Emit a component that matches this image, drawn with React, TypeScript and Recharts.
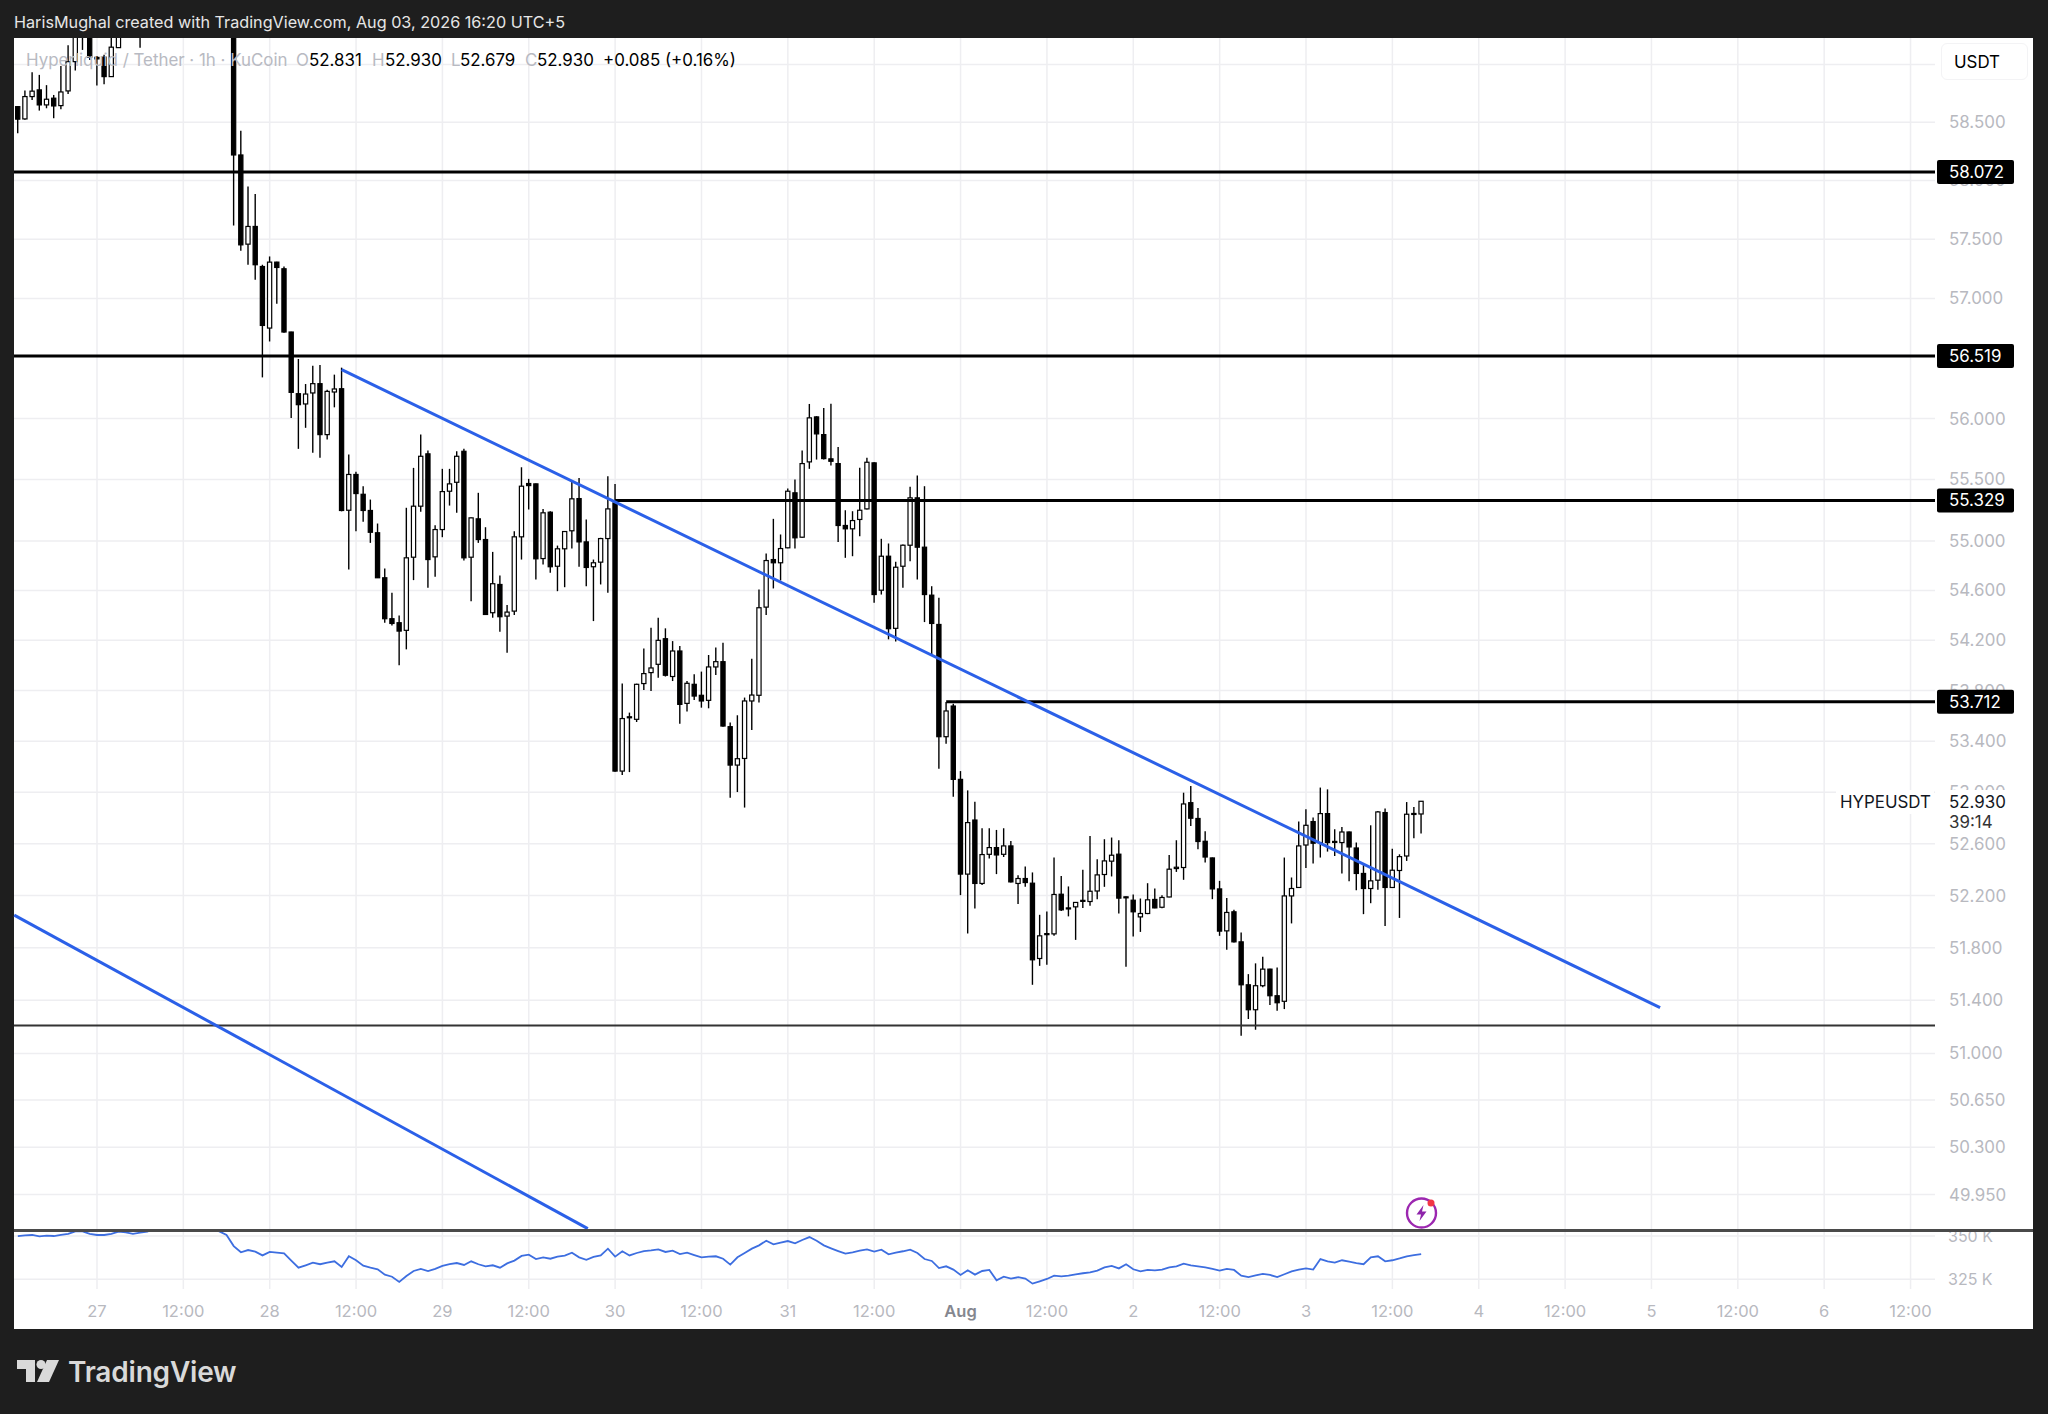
import { Bar, CartesianGrid, ComposedChart, Line, ReferenceLine, XAxis, YAxis } from 'recharts'

// hours counted from Jul 27 00:00, candles above the visible range are left out
const candleHours = [
  -11, -10, -9, -8, -7, -6, -5, -4, -3, -2,
  -1, 0, 1, 2, 3, 6, 19, 20, 21, 22,
  23, 24, 25, 26, 27, 28, 29, 30, 31, 32,
  33, 34, 35, 36, 37, 38, 39, 40, 41, 42,
  43, 44, 45, 46, 47, 48, 49, 50, 51, 52,
  53, 54, 55, 56, 57, 58, 59, 60, 61, 62,
  63, 64, 65, 66, 67, 68, 69, 70, 71, 72,
  73, 74, 75, 76, 77, 78, 79, 80, 81, 82,
  83, 84, 85, 86, 87, 88, 89, 90, 91, 92,
  93, 94, 95, 96, 97, 98, 99, 100, 101, 102,
  103, 104, 105, 106, 107, 108, 109, 110, 111, 112,
  113, 114, 115, 116, 117, 118, 119, 120, 121, 122,
  123, 124, 125, 126, 127, 128, 129, 130, 131, 132,
  133, 134, 135, 136, 137, 138, 139, 140, 141, 142,
  143, 144, 145, 146, 147, 148, 149, 150, 151, 152,
  153, 154, 155, 156, 157, 158, 159, 160, 161, 162,
  163, 164, 165, 166, 167, 168, 169, 170, 171, 172,
  173, 174, 175, 176, 177, 178, 179, 180, 181, 182, 183, 184,
]

const opens = [
  58.634, 58.528, 58.721, 58.779, 58.649, 58.707, 58.643, 58.77, 59.024, 59.4,
  59.5, 59.061, 59.063, 58.894, 59.146, 59.6, 59.7, 58.218, 57.458, 57.608,
  57.269, 56.752, 57.306, 57.25, 56.719, 56.206, 56.121, 56.212, 56.289, 55.868,
  56.22, 56.247, 55.249, 55.541, 55.379, 55.247, 55.066, 54.702, 54.373, 54.341,
  54.28, 54.868, 55.282, 55.71, 54.871, 55.092, 55.404, 55.477, 55.731, 54.868,
  55.179, 55.011, 54.421, 54.648, 54.394, 54.434, 55.033, 55.467, 55.464, 54.857,
  55.233, 54.795, 54.936, 55.082, 55.344, 54.992, 54.791, 54.828, 55.019, 55.309,
  53.166, 53.593, 53.573, 53.856, 53.943, 54.009, 54.213, 53.912, 54.115, 53.699,
  53.85, 53.763, 53.723, 53.988, 54.03, 53.515, 53.213, 53.265, 53.718, 53.763,
  54.466, 54.849, 54.823, 54.944, 55.391, 55.03, 55.644, 56.014, 55.868, 55.669,
  55.63, 55.125, 55.098, 55.174, 55.26, 55.636, 54.602, 54.876, 54.296, 54.795,
  54.965, 55.35, 54.949, 54.562, 54.327, 53.436, 53.678, 53.101, 52.365, 52.784,
  52.293, 52.518, 52.57, 52.518, 52.583, 52.293, 52.331, 52.295, 51.718, 51.9,
  51.906, 52.21, 52.105, 52.113, 52.155, 52.154, 52.235, 52.362, 52.465, 52.519,
  52.19, 52.164, 52.036, 52.062, 52.17, 52.11, 52.189, 52.408, 52.416, 52.919,
  52.796, 52.619, 52.49, 52.251, 51.929, 52.075, 51.845, 51.518, 51.329, 51.511,
  51.637, 51.435, 51.393, 52.197, 52.262, 52.59, 52.772, 52.609, 52.834, 52.61,
  52.609, 52.691, 52.567, 52.37, 52.254, 52.318, 52.842, 52.262, 52.393, 52.505, 52.835, 52.831,
]

const highs = [
  58.64, 58.773, 58.932, 58.909, 58.82, 58.735, 58.987, 59.167, 59.5, 59.6,
  59.6, 59.074, 59.083, 59.3, 59.5, 59.7, 59.8, 58.427, 57.948, 57.885,
  57.284, 57.354, 57.309, 57.269, 56.721, 56.494, 56.286, 56.438, 56.444, 56.239,
  56.364, 56.422, 55.704, 55.563, 55.445, 55.336, 55.141, 54.777, 54.581, 54.399,
  55.269, 55.595, 55.868, 55.737, 55.127, 55.587, 55.587, 55.731, 55.751, 55.19,
  55.391, 55.111, 54.911, 54.72, 54.482, 55.079, 55.6, 55.505, 55.467, 55.26,
  55.241, 54.962, 55.079, 55.491, 55.513, 55.174, 54.849, 55.025, 55.526, 55.464,
  53.856, 53.626, 53.855, 54.134, 54.301, 54.381, 54.296, 54.194, 54.154, 53.876,
  53.93, 53.951, 54.083, 54.142, 54.181, 53.547, 53.605, 53.745, 54.054, 54.608,
  54.898, 55.179, 55.052, 55.426, 55.5, 55.737, 56.121, 56.02, 56.088, 56.123,
  55.767, 55.249, 55.241, 55.595, 55.677, 55.641, 55.017, 54.979, 54.831, 54.97,
  55.44, 55.532, 55.445, 54.634, 54.541, 53.71, 53.697, 53.166, 53.015, 52.927,
  52.72, 52.72, 52.707, 52.72, 52.621, 52.357, 52.424, 52.378, 52.052, 52.078,
  52.493, 52.351, 52.27, 52.15, 52.398, 52.659, 52.48, 52.635, 52.648, 52.627,
  52.193, 52.208, 52.177, 52.295, 52.254, 52.203, 52.512, 52.627, 52.997, 53.049,
  52.878, 52.697, 52.493, 52.313, 52.182, 52.09, 51.917, 51.599, 51.681, 51.731,
  51.64, 51.65, 52.493, 52.339, 52.772, 52.868, 52.803, 53.037, 53.023, 52.712,
  52.73, 52.695, 52.609, 52.447, 52.743, 52.854, 52.873, 52.562, 52.518, 52.924, 52.885, 52.93,
]

const lows = [
  58.405, 58.52, 58.692, 58.6, 58.62, 58.534, 58.612, 58.744, 58.946, 59.126,
  59.039, 58.816, 58.828, 58.89, 59.146, 59.146, 57.616, 57.402, 57.284, 57.158,
  56.341, 56.64, 56.956, 56.713, 56.006, 55.751, 55.924, 55.718, 55.677, 55.827,
  56.093, 55.24, 54.769, 55.079, 55.155, 54.984, 54.7, 54.341, 54.319, 54.001,
  54.128, 54.683, 55.236, 54.621, 54.71, 55.03, 55.287, 55.228, 54.841, 54.513,
  54.984, 54.405, 54.381, 54.269, 54.102, 54.402, 54.849, 55.255, 54.688, 54.809,
  54.742, 54.594, 54.626, 54.938, 54.791, 54.634, 54.354, 54.648, 54.581, 53.16,
  53.135, 53.158, 53.552, 53.805, 53.797, 53.903, 53.912, 53.876, 53.539, 53.634,
  53.725, 53.665, 53.66, 53.924, 53.515, 52.958, 53.002, 52.881, 53.488, 53.705,
  54.402, 54.616, 54.68, 54.94, 54.938, 55.025, 55.587, 55.663, 55.663, 55.614,
  54.992, 54.863, 54.876, 55.038, 55.255, 54.501, 54.567, 54.208, 54.19, 54.621,
  54.836, 54.688, 54.346, 54.075, 53.185, 53.381, 52.966, 52.203, 51.909, 52.101,
  52.282, 52.485, 52.365, 52.497, 52.3, 52.134, 52.267, 51.518, 51.662, 51.67,
  51.891, 52.082, 52.04, 51.86, 52.105, 52.121, 52.172, 52.267, 52.347, 52.062,
  51.655, 51.886, 51.921, 52.057, 52.103, 52.103, 52.186, 52.382, 52.321, 52.738,
  52.557, 52.455, 52.172, 51.891, 51.784, 51.84, 51.133, 51.259, 51.178, 51.5,
  51.365, 51.322, 51.334, 51.986, 52.258, 52.413, 52.447, 52.493, 52.539, 52.505,
  52.37, 52.31, 52.241, 52.057, 52.141, 52.244, 51.967, 52.258, 52.028, 52.467, 52.643, 52.679,
]

const closes = [
  58.526, 58.721, 58.768, 58.649, 58.698, 58.64, 58.761, 59.024, 59.45, 59.3,
  59.063, 59.048, 58.894, 59.15, 59.45, 59.4, 58.218, 57.452, 57.608, 57.284,
  56.774, 57.306, 57.261, 56.719, 56.217, 56.115, 56.203, 56.289, 55.868, 56.225,
  56.245, 55.247, 55.541, 55.385, 55.247, 55.07, 54.702, 54.373, 54.335, 54.274,
  54.863, 55.282, 55.69, 54.849, 55.092, 55.401, 55.464, 55.69, 54.863, 55.187,
  55.011, 54.407, 54.654, 54.389, 54.426, 55.033, 55.445, 55.45, 54.855, 55.228,
  54.791, 54.936, 55.076, 55.342, 54.992, 54.785, 54.823, 55.019, 55.26, 53.166,
  53.579, 53.585, 53.85, 53.935, 53.98, 54.2, 53.922, 54.115, 53.691, 53.858,
  53.757, 53.718, 53.988, 54.03, 53.52, 53.213, 53.263, 53.718, 53.765, 54.461,
  54.841, 54.823, 54.938, 55.404, 55.025, 55.63, 56.006, 55.874, 55.671, 55.649,
  55.125, 55.098, 55.165, 55.249, 55.641, 54.567, 54.876, 54.293, 54.787, 54.965,
  55.35, 54.949, 54.567, 54.335, 53.436, 53.639, 53.101, 52.365, 52.764, 52.293,
  52.516, 52.57, 52.513, 52.583, 52.305, 52.331, 52.3, 51.708, 51.891, 51.908,
  52.208, 52.09, 52.097, 52.147, 52.163, 52.233, 52.359, 52.467, 52.511, 52.18,
  52.183, 52.075, 52.062, 52.167, 52.105, 52.185, 52.403, 52.418, 52.909, 52.798,
  52.617, 52.497, 52.251, 51.927, 52.07, 51.845, 51.518, 51.329, 51.511, 51.637,
  51.435, 51.382, 52.197, 52.254, 52.583, 52.743, 52.604, 52.834, 52.609, 52.618,
  52.691, 52.575, 52.37, 52.254, 52.313, 52.847, 52.262, 52.395, 52.5, 52.829, 52.831, 52.93,
]

// indicator pane, one value per hour from -11 to 184, in thousands
const indicatorStart = -11
const indicatorK = [
  350.0, 350.4, 350.6, 349.8, 350.2, 350.0, 350.6, 351.2, 352.7, 352.7,
  351.2, 350.6, 350.6, 351.3, 352.5, 352.1, 351.3, 351.9, 352.5, 354.5,
  356.0, 357.0, 356.5, 355.0, 354.0, 354.4, 354.2, 354.0, 352.7, 350.6,
  344.2, 340.6, 341.9, 341.0, 338.8, 340.8, 340.4, 340.0, 335.8, 331.7,
  333.1, 334.6, 333.7, 334.6, 335.4, 332.1, 338.3, 336.0, 332.9, 331.7,
  330.8, 327.7, 326.5, 323.5, 326.9, 329.8, 331.0, 329.8, 331.0, 332.7,
  333.8, 334.4, 333.3, 335.4, 333.7, 332.5, 333.1, 331.7, 334.2, 335.8,
  338.5, 339.2, 336.7, 337.7, 336.9, 338.1, 338.7, 340.4, 337.7, 336.3,
  337.9, 338.8, 342.7, 338.1, 341.2, 338.8, 340.2, 341.3, 341.7, 342.3,
  340.8, 341.5, 339.6, 340.4, 339.0, 337.7, 338.1, 338.3, 336.9, 333.5,
  337.7, 340.2, 342.7, 344.6, 347.3, 345.2, 346.2, 347.1, 345.8, 347.7,
  349.4, 347.3, 344.6, 342.9, 341.3, 339.8, 340.6, 341.5, 342.3, 341.0,
  342.1, 339.4, 340.4, 341.2, 342.1, 340.2, 336.7, 335.6, 331.5, 332.5,
  330.6, 327.5, 330.2, 327.7, 329.8, 330.4, 324.4, 326.5, 325.4, 326.2,
  325.4, 322.5, 323.8, 325.2, 327.1, 326.7, 327.1, 327.9, 328.5, 329.0,
  330.0, 331.9, 332.7, 331.3, 333.7, 330.8, 329.6, 330.4, 330.2, 330.6,
  331.9, 332.5, 334.0, 333.1, 332.5, 331.9, 331.0, 330.0, 331.0, 330.4,
  327.1, 326.3, 327.3, 328.1, 327.5, 326.3, 327.9, 329.6, 330.6, 331.3,
  330.6, 336.7, 335.4, 334.6, 336.0, 335.2, 334.4, 333.7, 337.7, 338.3,
  335.4, 336.0, 337.1, 338.3, 339.0, 339.6,
]

const priceTicks = [59, 58.5, 58, 57.5, 57, 56, 55.5, 55, 54.6, 54.2, 53.8, 53.4, 53, 52.6, 52.2, 51.8, 51.4, 51, 50.65, 50.3, 49.95]
const indicatorTicks = [350, 325]
const timeTicks = [0, 12, 24, 36, 48, 60, 72, 84, 96, 108, 120, 132, 144, 156, 168, 180, 192, 204, 216, 228, 240, 252]
const timeLabels = ['27', '12:00', '28', '12:00', '29', '12:00', '30', '12:00', '31', '12:00', 'Aug', '12:00', '2', '12:00', '3', '12:00', '4', '12:00', '5', '12:00', '6', '12:00']
const levels = [
  { price: 58.072, from: -11.53 },
  { price: 56.519, from: -11.53 },
  { price: 55.329, from: 72 },
  { price: 53.712, from: 118 },
]

const xDomain = [-11.53, 255.4]
const priceDomain = [49.69, 59.23]
const indicatorDomain = [319.4, 352.9]

const fontFamily = 'Inter, "Noto Sans", sans-serif'
const axisGray = '#b8b9bf'
const gridColor = '#eeeef1'
const labelSize = 16.9

const candles = candleHours.map((hour, i) => ({
  hour,
  range: [lows[i], highs[i]],
  open: opens[i],
  close: closes[i],
}))

const indicatorRows = indicatorK.map((value, i) => ({ hour: indicatorStart + i, value }))

function Candle(props: any) {
  const { x, y, width, height, payload } = props
  const top = Math.min(y, y + height)
  const bottom = Math.max(y, y + height)
  const [low, high] = payload.range
  // open and close sit on the same log scale as the bar ends
  const toY = (p: number) => top + (Math.log(high / p) / Math.log(high / low)) * (bottom - top)
  const cx = x + width / 2
  const bullish = payload.close >= payload.open
  const y1 = toY(Math.max(payload.open, payload.close))
  const y2 = toY(Math.min(payload.open, payload.close))
  return (
    <g>
      <line x1={cx} x2={cx} y1={top} y2={bottom} stroke="#000" strokeWidth={1.4} />
      <rect
        x={cx - 2.1}
        y={y1}
        width={4.2}
        height={Math.max(y2 - y1, 1)}
        fill={bullish ? '#fff' : '#000'}
        stroke="#000"
        strokeWidth={1.2}
      />
    </g>
  )
}

function LevelPill(props: any) {
  const { viewBox, text } = props
  const right = viewBox.x + viewBox.width
  return (
    <g>
      <rect x={right + 2} y={viewBox.y - 12} width={77} height={24} rx={2} fill="#000" />
      <text x={right + 14} y={viewBox.y + 6} fill="#fff" fontSize={labelSize} fontFamily={fontFamily}>
        {text}
      </text>
    </g>
  )
}

function TimeTick(props: any) {
  const { x, y, payload } = props
  const label = timeLabels[timeTicks.indexOf(payload.value)]
  const isMonth = label === 'Aug'
  return (
    <text
      x={x}
      y={y}
      textAnchor="middle"
      fontSize={16.5}
      fontFamily={fontFamily}
      fontWeight={isMonth ? 600 : 400}
      fill={isMonth ? '#85878f' : axisGray}
    >
      {label}
    </text>
  )
}

function PriceChart() {
  return (
    <ComposedChart width={2048} height={1240} data={candles} margin={{ top: 38, right: 15, bottom: 10, left: 14 }}>
      <CartesianGrid stroke={gridColor} strokeWidth={1.5} horizontalValues={priceTicks} verticalValues={timeTicks} />
      <XAxis dataKey="hour" type="number" domain={xDomain} ticks={timeTicks} allowDataOverflow hide />
      <YAxis
        orientation="right"
        type="number"
        scale="log"
        domain={priceDomain}
        ticks={priceTicks}
        allowDataOverflow
        interval={0}
        width={98}
        axisLine={false}
        tickLine={false}
        tickSize={0}
        tickMargin={14}
        tickFormatter={(v: number) => v.toFixed(3)}
        tick={{ fill: axisGray, fontSize: labelSize, fontFamily }}
      />
      <Bar dataKey="range" barSize={5} shape={Candle} isAnimationActive={false} />
      {levels.map((level) => (
        <ReferenceLine
          key={level.price}
          segment={[{ x: level.from, y: level.price }, { x: xDomain[1], y: level.price }]}
          stroke="#000"
          strokeWidth={3}
        />
      ))}
      <ReferenceLine y={51.21} stroke="#333" strokeWidth={2} />
      <ReferenceLine
        segment={[{ x: 34, y: 56.405 }, { x: 217.2, y: 51.345 }]}
        stroke="#2b60e8"
        strokeWidth={3}
      />
      <ReferenceLine
        segment={[{ x: -11.5, y: 52.05 }, { x: 68.2, y: 49.7 }]}
        stroke="#2b60e8"
        strokeWidth={3}
      />
    </ComposedChart>
  )
}

// same scales as PriceChart, painted over its axis so the price pills hide the ticks behind them
function PillChart() {
  return (
    <ComposedChart width={2048} height={1240} data={candles} margin={{ top: 38, right: 15, bottom: 10, left: 14 }}>
      <XAxis dataKey="hour" type="number" domain={xDomain} allowDataOverflow hide />
      <YAxis
        orientation="right"
        type="number"
        scale="log"
        domain={priceDomain}
        allowDataOverflow
        width={98}
        axisLine={false}
        tickLine={false}
        tick={false}
      />
      {levels.map((level) => (
        <ReferenceLine
          key={level.price}
          y={level.price}
          stroke="none"
          label={<LevelPill text={level.price.toFixed(3)} />}
        />
      ))}
    </ComposedChart>
  )
}

function IndicatorChart() {
  return (
    <ComposedChart
      width={2048}
      height={98}
      data={indicatorRows}
      margin={{ top: 0, right: 15, bottom: 0, left: 14 }}
      style={{ overflow: 'visible' }}
    >
      <CartesianGrid stroke={gridColor} strokeWidth={1.5} horizontalValues={indicatorTicks} verticalValues={timeTicks} />
      <XAxis
        dataKey="hour"
        type="number"
        domain={xDomain}
        ticks={timeTicks}
        allowDataOverflow
        interval={0}
        height={40}
        axisLine={false}
        tickLine={false}
        tickSize={0}
        tickMargin={28}
        tick={<TimeTick />}
      />
      <YAxis
        orientation="right"
        type="number"
        domain={indicatorDomain}
        ticks={indicatorTicks}
        allowDataOverflow
        interval={0}
        width={98}
        axisLine={false}
        tickLine={false}
        tickSize={0}
        tickMargin={13}
        tickFormatter={(v: number) => `${v} K`}
        tick={{ fill: axisGray, fontSize: 16, fontFamily }}
      />
      <Line dataKey="value" stroke="#3d6ee0" strokeWidth={1.8} dot={false} isAnimationActive={false} />
    </ComposedChart>
  )
}

function Overlay({ x, y, children, color = '#000', size = labelSize, weight = 400, spacing = 0 }: any) {
  return (
    <div
      style={{
        position: 'absolute',
        left: x,
        top: y,
        color,
        fontSize: size,
        fontWeight: weight,
        fontFamily,
        letterSpacing: spacing,
        lineHeight: '20px',
        whiteSpace: 'nowrap',
      }}
    >
      {children}
    </div>
  )
}

export default function App() {
  return (
    <div style={{ position: 'absolute', left: 0, top: 0, width: 2048, height: 1414, background: '#1e1e1e', overflow: 'hidden' }}>
      <div style={{ position: 'absolute', left: 14, top: 38, width: 2019, height: 1291, background: '#fff' }} />
      <div style={{ position: 'absolute', left: 0, top: 0 }}>
        <PriceChart />
      </div>
      <div style={{ position: 'absolute', left: 0, top: 1231 }}>
        <IndicatorChart />
      </div>
      <div style={{ position: 'absolute', left: 0, top: 0, width: 2048, height: 38, background: '#1e1e1e' }} />
      <div style={{ position: 'absolute', left: 14, top: 1229, width: 2019, height: 2.5, background: '#4a4a4a' }} />
      <div style={{ position: 'absolute', left: 0, top: 0 }}>
        <PillChart />
      </div>

      <Overlay x={14} y={12} color="#e6e6e6" size={16.2}>
        HarisMughal created with TradingView.com, Aug 03, 2026 16:20 UTC+5
      </Overlay>

      <Overlay x={26} y={50} color="#b8bac2">Hyperliquid / Tether · 1h · KuCoin</Overlay>
      <Overlay x={296} y={50} color="#b8bac2">O</Overlay>
      <Overlay x={309} y={50}>52.831</Overlay>
      <Overlay x={372} y={50} color="#b8bac2">H</Overlay>
      <Overlay x={385} y={50}>52.930</Overlay>
      <Overlay x={451} y={50} color="#b8bac2">L</Overlay>
      <Overlay x={460} y={50}>52.679</Overlay>
      <Overlay x={525} y={50} color="#b8bac2">C</Overlay>
      <Overlay x={537} y={50}>52.930</Overlay>
      <Overlay x={603} y={50}>+0.085 (+0.16%)</Overlay>

      <div
        style={{
          position: 'absolute',
          left: 1941,
          top: 43,
          width: 87,
          height: 37,
          background: '#fff',
          border: '1px solid #f3f3f5',
          borderRadius: 6,
          boxSizing: 'border-box',
        }}
      />
      <Overlay x={1954} y={52}>USDT</Overlay>

      <div style={{ position: 'absolute', left: 1836, top: 790, width: 98, height: 24, background: '#fff' }} />
      <div style={{ position: 'absolute', left: 1937, top: 790, width: 76, height: 45, background: '#fff' }} />
      <Overlay x={1840} y={792} color="#131722">HYPEUSDT</Overlay>
      <Overlay x={1949} y={792} color="#131722">52.930</Overlay>
      <Overlay x={1949} y={812} color="#333">39:14</Overlay>

      <svg style={{ position: 'absolute', left: 1400, top: 1191 }} width={44} height={44}>
        <circle cx={21.5} cy={22} r={14.5} fill="#fff" stroke="#9c27b0" strokeWidth={2.4} />
        <path d="M23.5 14 L16.5 23.5 L21 23.5 L19.5 30 L26.5 20.5 L22 20.5 Z" fill="#8e24aa" />
        <circle cx={31} cy={12} r={3.5} fill="#f23645" />
      </svg>

      <svg style={{ position: 'absolute', left: 17, top: 1360 }} width={44} height={23}>
        <path d="M0 0 H18 V22 H9 V9 H0 Z" fill="#d9d9d9" />
        <circle cx={24} cy={4.5} r={4.5} fill="#d9d9d9" />
        <path d="M30 0 H42 L32 22 H20 Z" fill="#d9d9d9" />
      </svg>
      <Overlay x={68} y={1362} color="#d9d9d9" size={28} weight={600} spacing={-0.2}>
        TradingView
      </Overlay>
    </div>
  )
}
